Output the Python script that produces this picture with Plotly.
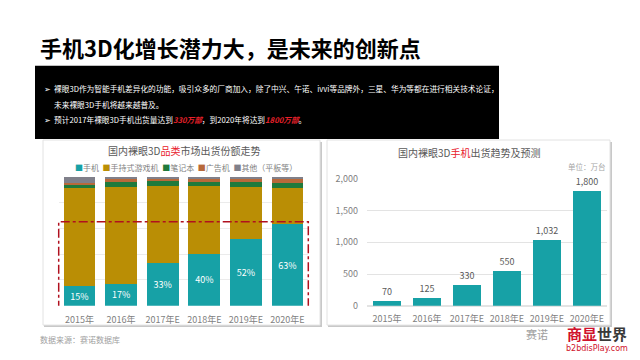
import plotly.graph_objects as go

# ---------------- data ----------------
years = ["2015年", "2016年", "2017年E", "2018年E", "2019年E", "2020年E"]
share_phone = [15, 17, 33, 40, 52, 63]
share_handheld = [76, 75, 60, 53, 40, 28]
share_notebook = [3, 3.5, 3.5, 3, 4, 4]
share_ad = [1, 2.5, 2.5, 3, 3, 3]
share_other = [5, 2, 1, 1, 1, 2]
series_names = ["手机", "手持式游戏机", "笔记本", "广告机", "其他（平板等）"]
shipments = [70, 125, 330, 550, 1032, 1800]

C_TEAL = "#17A1A6"
C_GOLD = "#BA8E05"
C_GREEN = "#1F7A3C"
C_ORANGE = "#B8693A"
C_GRAY = "#80808A"
FONT = "Noto Sans CJK SC"
W, H = 640, 360

def px(x):
    return x / W

def py(y):
    return 1 - y / H

fig = go.Figure()

share_series = [share_phone, share_handheld, share_notebook, share_ad, share_other]
colors = [C_TEAL, C_GOLD, C_GREEN, C_ORANGE, C_GRAY]
for name, vals, col in zip(series_names, share_series, colors):
    is_phone = name == "手机"
    fig.add_trace(go.Bar(
        x=years, y=vals, name=name, marker=dict(color=col, line=dict(width=0)),
        text=[f"{v}%" for v in vals] if is_phone else None,
        textposition="inside" if is_phone else "none",
        insidetextanchor="middle",
        textfont=dict(color="white", size=9, family=FONT),
        xaxis="x", yaxis="y", showlegend=False,
    ))

fig.add_trace(go.Bar(
    x=years, y=shipments, marker=dict(color=C_TEAL, line=dict(width=0)),
    texttemplate="%{y:,}", textposition="outside",
    textfont=dict(color="#595959", size=9, family=FONT),
    cliponaxis=False, xaxis="x2", yaxis="y2", showlegend=False, width=0.7,
))

fig.update_layout(
    width=W, height=H, margin=dict(l=0, r=0, t=0, b=0),
    paper_bgcolor="white", plot_bgcolor="rgba(0,0,0,0)",
    barmode="stack", bargap=0.24,
    font=dict(family=FONT, color="#595959", size=9),
    xaxis=dict(domain=[px(58.7), px(308.3)], showgrid=False, showline=False,
               ticks="", tickfont=dict(size=9, color="#7F7F7F"), ticklabelstandoff=7),
    yaxis=dict(domain=[py(310), py(176)], range=[0, 100], showticklabels=False,
               gridcolor="#EBEBEB", dtick=20, zeroline=False),
    xaxis2=dict(domain=[px(367), px(607)], anchor="y2", showgrid=False,
                showline=False, ticks="", tickfont=dict(size=9, color="#7F7F7F"),
                ticklabelstandoff=6),
    yaxis2=dict(domain=[py(310), py(178)], range=[0, 2000], anchor="x2",
                dtick=500, tickformat=",", gridcolor="#E3E3E3",
                zeroline=True, zerolinecolor="#E3E3E3",
                tickfont=dict(size=9, color="#7F7F7F"), ticklabelstandoff=8),
)

shapes = []
# black text box
shapes.append(dict(type="rect", xref="paper", yref="paper",
                   x0=px(35), x1=px(499), y0=py(137), y1=py(61),
                   fillcolor="black", line=dict(width=0), layer="below"))
# cards with shadows
for (x0, x1) in [(43, 320), (327, 610)]:
    shapes.append(dict(type="rect", xref="paper", yref="paper",
                       x0=px(x0 + 1), x1=px(x1 + 2), y0=py(332), y1=py(140),
                       fillcolor="#C8C8C8", line=dict(width=0), layer="below"))
    shapes.append(dict(type="rect", xref="paper", yref="paper",
                       x0=px(x0), x1=px(x1), y0=py(330), y1=py(138),
                       fillcolor="white", line=dict(color="#E2E2E2", width=1),
                       layer="below"))
# red dash-dot highlight box
shapes.append(dict(type="rect", xref="x domain", yref="y",
                   x0=0, x1=1, y0=-3, y1=65,
                   line=dict(color="#B0101E", width=1.5, dash="dashdot"),
                   fillcolor="rgba(0,0,0,0)", layer="above"))
fig.update_layout(shapes=shapes)


def note(text, x, y, size, color, anchor="center", family=FONT):
    return dict(text=text, x=px(x), y=py(y), xref="paper", yref="paper",
                xanchor=anchor, yanchor="middle", showarrow=False, borderpad=0,
                font=dict(size=size, color=color, family=family))


ann = []
ann.append(note("<b>手机3D化增长潜力大，是未来的创新点</b>", 39, 42, 22, "black", "left"))
lines = [
    (85, "➢", "裸眼3D作为智能手机差异化的功能，吸引众多的厂商加入，除了中兴、午诺、ivvi等品牌外，三星、华为等都在进行相关技术论证，"),
    (101, "", "未来裸眼3D手机将越来越普及。"),
    (117, "➢", "预计2017年裸眼3D手机出货量达到<b><i><span style='color:#E8202A'>330万部</span></i></b>，到2020年将达到<b><i><span style='color:#E8202A'>1800万部</span></i></b>。"),
]
for y, bullet, t in lines:
    if bullet:
        ann.append(note(bullet, 43, y, 7.7, "white", "left"))
    ann.append(note(t, 53, y, 7.7, "white", "left"))

ann.append(note("国内裸眼3D<span style='color:#E8202A'>品类</span>市场出货份额走势",
                184, 149, 10, "#595959"))
legend_parts = []
for name, col in zip(series_names, colors):
    legend_parts.append(f"<span style='color:{col}'>■</span>{name}")
ann.append(note("  ".join(legend_parts), 186, 166, 8, "#7F7F7F"))
ann.append(note("国内裸眼3D<span style='color:#E8202A'>手机</span>出货趋势及预测",
                469, 151, 10, "#595959"))
ann.append(note("单位：万台", 607, 165, 7.5, "#A6A6A6", "right"))
ann.append(note("数据来源：赛诺数据库", 39, 345, 8, "#A0A0A0", "left"))
# watermark
ann.append(note("赛诺", 537, 339, 11, "#A0A0A0"))
ann.append(note("<b><span style='color:#D0112B'>商显</span><span style='color:#3A3A3A'>世界</span></b>",
                597, 339, 15, "#D0112B"))
ann.append(note("b2bdisPlay.com", 597, 354, 8, "#D0112B", family="DejaVu Sans"))
fig.update_layout(annotations=ann)

fig.write_html("out.html", config={"displayModeBar": False})
with open("out.html", "r", encoding="utf-8") as f:
    html = f.read()
html = html.replace("<head>", "<head><style>html,body{margin:0;padding:0;}</style>", 1)
with open("out.html", "w", encoding="utf-8") as f:
    f.write(html)
